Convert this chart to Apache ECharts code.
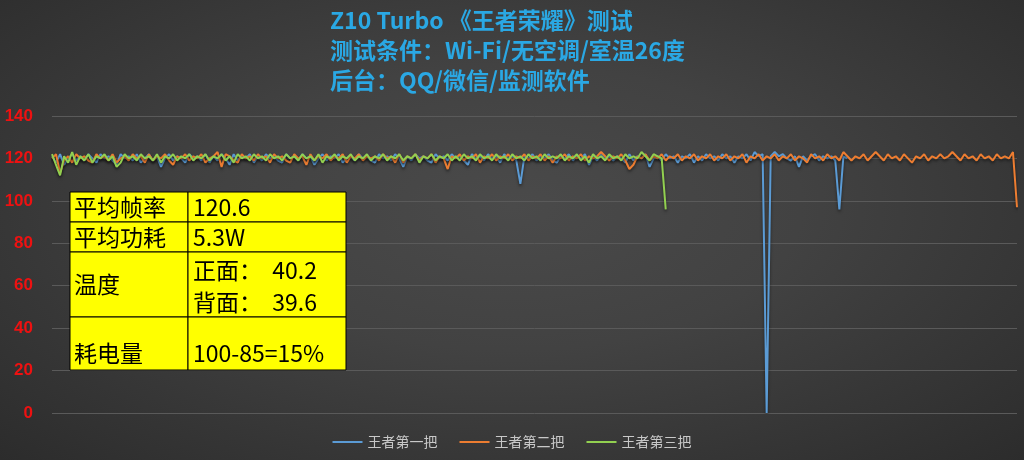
<!DOCTYPE html>
<html><head><meta charset="utf-8">
<script src="https://cdn.jsdelivr.net/npm/echarts@6/dist/echarts.min.js"></script>
<style>
html,body{margin:0;padding:0;}
body{width:1024px;height:460px;background:radial-gradient(ellipse at 50% 45%, #4a4a4a 0%, #424242 40%, #2c2c2c 100%);}
#c{width:1024px;height:460px;}
</style></head><body><div id="c"></div>
<script>
// ---- data ----
const titleLines = ['Z10 Turbo 《王者荣耀》测试', '测试条件：Wi-Fi/无空调/室温26度', '后台：QQ/微信/监测软件'];
const seriesNames = ['王者第一把', '王者第二把', '王者第三把'];
const yTicks = [0, 20, 40, 60, 80, 100, 120, 140];
const blue = [
121,118,122,117,120,122,119,121,119,122,120,118,122,120,121,119,117,122,120,121,
119,122,118,120,122,119,121,116,120,122,119,121,120,118,122,120,121,119,122,118,
121,119,122,120,117,122,119,121,120,122,118,121,119,122,120,121,119,118,122,120,
121,119,122,120,121,117,120,122,119,121,120,122,118,120,121,119,122,120,121,119,
118,122,120,121,119,122,120,116,121,119,122,120,121,119,118,122,120,121,119,122,
120,121,119,117,122,120,121,119,122,120,121,118,122,120,121,119,108,121,120,122,
119,121,120,122,119,118,121,120,122,119,121,120,122,117,121,119,122,120,121,119,
121,120,118,122,119,121,120,122,116,120,121,119,122,120,121,118,121,120,122,118,
121,119,122,120,121,119,122,120,121,118,121,120,122,119,123,121,122,0,121,123,
121,122,120,119,121,116,121,119,121,122,119,121,120,121,119,96,121,120];
const orange = [
120,122,113,119,121,118,122,120,121,119,118,122,120,121,119,122,118,120,121,119,
122,120,121,118,122,119,121,120,122,119,117,121,120,122,119,121,120,122,118,120,
121,123,116,122,121,119,118,122,120,121,119,122,120,121,118,122,120,121,119,118,
122,120,121,117,122,119,121,120,122,119,121,120,122,118,121,120,122,119,121,120,
121,119,122,120,121,118,122,118,121,120,122,119,121,120,122,118,121,120,115,121,
120,122,119,121,120,122,118,121,120,122,119,121,120,122,119,121,120,122,119,121,
120,122,119,121,118,121,120,122,119,121,120,122,119,121,120,121,123,121,119,121,
120,122,119,115,117,121,120,122,119,121,120,122,119,121,120,122,119,121,120,122,
119,121,120,122,119,121,120,122,119,121,120,122,118,121,120,122,119,121,120,122,
119,121,120,122,119,121,120,118,122,120,121,119,122,120,121,119,123,121,119,121,
120,122,119,121,123,121,119,122,120,121,119,122,120,118,121,120,122,119,121,120,
122,120,121,123,121,119,122,120,121,119,122,120,121,119,122,120,121,120,123,97];
const green = [
122,117,112,121,118,123,117,121,119,122,118,121,120,122,119,121,116,118,122,120,
121,119,122,120,121,119,122,118,121,120,122,119,121,120,122,119,121,120,122,119,
121,120,122,119,121,118,122,120,121,119,122,120,121,119,122,120,121,119,122,120,
121,119,122,120,121,119,122,118,121,120,122,119,121,120,122,119,121,120,122,119,
121,120,122,119,121,120,122,119,121,120,122,118,121,120,122,119,121,120,122,119,
121,119,122,120,121,119,122,120,121,119,122,120,121,119,122,120,121,119,122,120,
121,119,122,120,121,120,122,119,121,120,122,119,121,118,122,120,121,119,122,120,
121,119,122,120,121,120,123,121,119,122,121,120,96];
const tableRows = [
  ['平均帧率', ['120.6']],
  ['平均功耗', ['5.3W']],
  ['温度', ['正面：  40.2', '背面：  39.6']],
  ['耗电量', ['100-85=15%']]
];
// ---- chart ----
const N = Math.max(blue.length, orange.length, green.length);
const cats = Array.from({length: N}, (_, i) => i);
const colors = ['#5B9BD5', '#ED7D31', '#92D050'];
const font = "'Noto Sans CJK SC','Noto Sans',sans-serif";

// table graphics
const tx = 70, tw1 = 118, tw2 = 158;
const rowY = [192, 222, 252, 317, 370];
const g = [];
for (let r = 0; r < tableRows.length; r++) {
  const y0 = rowY[r], h = rowY[r + 1] - y0;
  g.push({type: 'rect', shape: {x: tx, y: y0, width: tw1, height: h}, style: {fill: '#ffff00', stroke: '#000', lineWidth: 1}, z: 10});
  g.push({type: 'rect', shape: {x: tx + tw1, y: y0, width: tw2, height: h}, style: {fill: '#ffff00', stroke: '#000', lineWidth: 1}, z: 10});
  const cy = r === 3 ? y0 + 36 : y0 + h / 2;
  g.push({type: 'text', x: tx + 4, y: cy, style: {text: tableRows[r][0], font: '23px ' + font, fill: '#000', textVerticalAlign: 'middle', verticalAlign: 'middle'}, z: 11});
  const vals = tableRows[r][1];
  vals.forEach((v, k) => {
    const vy = vals.length === 1 ? cy : y0 + 18 + k * 32;
    g.push({type: 'text', x: tx + tw1 + 5, y: vy, style: {text: v, font: '23px ' + font, fill: '#000', textVerticalAlign: 'middle', verticalAlign: 'middle'}, z: 11});
  });
}
titleLines.forEach((t, i) => {
  g.push({type: 'text', x: 330, y: 20 + i * 30, style: {text: t, font: 'bold 23px ' + font, fill: '#2aa8e4', verticalAlign: 'middle', textVerticalAlign: 'middle'}, z: 11});
});

const chart = echarts.init(document.getElementById('c'), null, {renderer: 'canvas'});
chart.setOption({
  backgroundColor: 'transparent',
  animation: false,
  color: colors,
  grid: {left: 52, right: 7, top: 116, bottom: 47},
  legend: {
    bottom: 6, left: 'center', itemWidth: 30, itemHeight: 10, itemGap: 22,
    icon: 'path://M0,4L30,4L30,6L0,6Z',
    textStyle: {color: '#c8c8c8', fontSize: 14, fontFamily: font},
    data: seriesNames
  },
  xAxis: {type: 'category', data: cats, boundaryGap: false, show: false},
  yAxis: {
    type: 'value', min: 0, max: 140, interval: 20,
    axisLine: {show: false}, axisTick: {show: false},
    axisLabel: {color: '#ee1111', fontSize: 17, fontWeight: 'bold', fontFamily: "'Liberation Sans',sans-serif", margin: 19,
      formatter: v => yTicks.includes(v) ? String(v) : ''},
    splitLine: {lineStyle: {color: '#5a5a5a', width: 1}}
  },
  series: [blue, orange, green].map((d, i) => ({
    name: seriesNames[i], type: 'line', data: d, symbol: 'none',
    lineStyle: {width: 2, color: colors[i], shadowColor: 'rgba(0,0,0,0.5)', shadowBlur: 3, shadowOffsetY: 2},
    itemStyle: {color: colors[i]}
  })),
  graphic: g
});
</script></body></html>
